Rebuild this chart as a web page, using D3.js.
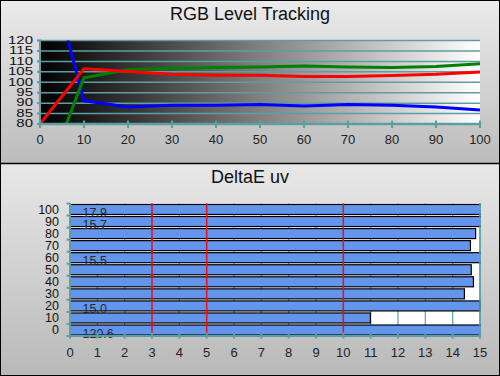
<!DOCTYPE html>
<meta charset="utf-8">
<style>
  body { margin: 0; background: #fff; }
  svg { display: block; font-family: "Liberation Sans", Arial, sans-serif; }
</style>
<script src="https://d3js.org/d3.v7.min.js"></script>
<div id="chart"></div>
<script>
  // RGB level tracking (stimulus % vs level)
  var levels = [0, 10, 20, 30, 40, 50, 60, 70, 80, 90, 100];
  var redVals = [80, 106.5, 105.2, 103.8, 103.3, 103.3, 102.7, 102.7, 103.2, 103.8, 104.9];
  var greenVals = [47, 102.2, 106.0, 106.7, 107.1, 107.3, 107.8, 107.3, 107.1, 107.6, 108.9];
  var blueVals = [171, 91.1, 88.1, 89.0, 89.0, 89.4, 88.6, 89.4, 89.0, 88.2, 86.7];
  var rgbYTicks = [80, 85, 90, 95, 100, 105, 110, 115, 120];
  var rgbXTicks = [0, 10, 20, 30, 40, 50, 60, 70, 80, 90, 100];

  // DeltaE uv
  var deCats = [100, 90, 80, 70, 60, 50, 40, 30, 20, 10, 0];
  var deVals = [17.9, 15.7, 14.84, 14.65, 15.5, 14.68, 14.76, 14.43, 15.0, 10.99, 120.6];
  var deRefLines = [3, 5, 10];
  var deXTicks = d3.range(0, 16);

  var W = 500, H = 376;
  var teal = "#5f9ea0";

  var svg = d3.select("#chart").append("svg")
      .attr("width", W).attr("height", H);

  var defs = svg.append("defs");
  function vGrad(id, c0, c1) {
    var g = defs.append("linearGradient").attr("id", id)
      .attr("x1", 0).attr("y1", 0).attr("x2", 0).attr("y2", 1);
    g.append("stop").attr("offset", "0%").attr("stop-color", c0);
    g.append("stop").attr("offset", "100%").attr("stop-color", c1);
  }
  vGrad("bgTop", "#ebebeb", "#bcbcbc");
  vGrad("bgBot", "#e8e8e8", "#b9b9b9");
  var hg = defs.append("linearGradient").attr("id", "plotGrad")
    .attr("x1", 0).attr("y1", 0).attr("x2", 1).attr("y2", 0);
  hg.append("stop").attr("offset", "0%").attr("stop-color", "#000");
  hg.append("stop").attr("offset", "100%").attr("stop-color", "#fff");

  // panel backgrounds
  svg.append("rect").attr("x", 0).attr("y", 0).attr("width", W).attr("height", 163.5).attr("fill", "url(#bgTop)");
  svg.append("rect").attr("x", 0).attr("y", 163.5).attr("width", W).attr("height", H - 163.5).attr("fill", "url(#bgBot)");
  svg.append("line").attr("x1", 0).attr("x2", W).attr("y1", 163.5).attr("y2", 163.5)
    .attr("stroke", "#000").attr("stroke-width", 1.5);
  svg.append("rect").attr("x", 0.5).attr("y", 0.5).attr("width", W - 1).attr("height", H - 1)
    .attr("fill", "none").attr("stroke", "#000").attr("stroke-width", 1);

  // ---------- top chart ----------
  var x1 = d3.scaleLinear().domain([0, 100]).range([40, 480]);
  var y1 = d3.scaleLinear().domain([80, 120]).range([124, 40.5]);

  svg.append("text").attr("x", 250).attr("y", 20).attr("text-anchor", "middle")
    .style("font-size", "18px").attr("fill", "#111").text("RGB Level Tracking");

  svg.append("rect").attr("x", x1(0)).attr("y", y1(120))
    .attr("width", x1(100) - x1(0)).attr("height", y1(80) - y1(120))
    .attr("fill", "url(#plotGrad)");

  svg.append("g").selectAll("line").data(rgbYTicks.slice(1)).enter().append("line")
    .attr("x1", 37).attr("x2", x1(100))
    .attr("y1", function(d) { return y1(d); }).attr("y2", function(d) { return y1(d); })
    .attr("stroke", teal).attr("stroke-width", 1.5);

  defs.append("clipPath").attr("id", "clipTop").append("rect")
    .attr("x", x1(0)).attr("y", y1(120)).attr("width", x1(100) - x1(0)).attr("height", y1(80) - y1(120));

  var line1 = d3.line()
    .x(function(d, i) { return x1(levels[i]); })
    .y(function(d) { return y1(d); });

  var series = [
    {vals: blueVals, color: "#0000ff"},
    {vals: greenVals, color: "#008000"},
    {vals: redVals, color: "#ff0000"}
  ];
  svg.append("g").attr("clip-path", "url(#clipTop)").selectAll("path").data(series).enter().append("path")
    .attr("d", function(d) { return line1(d.vals); })
    .attr("fill", "none").attr("stroke", function(d) { return d.color; })
    .attr("stroke-width", 3).attr("stroke-linejoin", "round");

  // axes
  svg.append("line").attr("x1", x1(0)).attr("x2", x1(0)).attr("y1", y1(120)).attr("y2", y1(80))
    .attr("stroke", teal).attr("stroke-width", 2);
  svg.append("line").attr("x1", x1(0) - 1).attr("x2", x1(100) + 1).attr("y1", y1(80)).attr("y2", y1(80))
    .attr("stroke", teal).attr("stroke-width", 2.5);
  svg.append("g").selectAll("line").data(rgbXTicks).enter().append("line")
    .attr("x1", function(d) { return x1(d); }).attr("x2", function(d) { return x1(d); })
    .attr("y1", 120.5).attr("y2", 128)
    .attr("stroke", teal).attr("stroke-width", 2);
  svg.append("g").selectAll("line").data(rgbYTicks).enter().append("line")
    .attr("x1", 37).attr("x2", 41)
    .attr("y1", function(d) { return y1(d); }).attr("y2", function(d) { return y1(d); })
    .attr("stroke", teal).attr("stroke-width", 2);

  svg.append("g").selectAll("text").data(rgbYTicks).enter().append("text")
    .attr("transform", function(d) { return "translate(33," + (y1(d) + 3.3) + ") scale(1,0.78)"; })
    .attr("text-anchor", "end").style("font-size", "15px").attr("fill", "#111")
    .text(function(d) { return d; });
  svg.append("g").selectAll("text").data(rgbXTicks).enter().append("text")
    .attr("x", function(d) { return x1(d); }).attr("y", 144)
    .attr("text-anchor", "middle").style("font-size", "13px").attr("fill", "#222")
    .text(function(d) { return d; });

  // ---------- bottom chart ----------
  var x2 = d3.scaleLinear().domain([0, 15]).range([70, 480]);
  var y2 = d3.scaleBand().domain(deCats).range([203.5, 336]).paddingInner(0.17).paddingOuter(0.08);
  var bandStep = (336 - 203.5) / deCats.length;

  svg.append("text").attr("x", 250).attr("y", 183).attr("text-anchor", "middle")
    .style("font-size", "18px").attr("fill", "#111").text("DeltaE uv");

  svg.append("rect").attr("x", x2(0)).attr("y", 203.5).attr("width", x2(15) - x2(0)).attr("height", 336 - 203.5)
    .attr("fill", "#fff");

  svg.append("g").selectAll("line").data(deXTicks.slice(1)).enter().append("line")
    .attr("x1", function(d) { return x2(d); }).attr("x2", function(d) { return x2(d); })
    .attr("y1", 203.5).attr("y2", 336)
    .attr("stroke", teal).attr("stroke-width", 1.2);

  defs.append("clipPath").attr("id", "clipBot").append("rect")
    .attr("x", x2(0)).attr("y", 203).attr("width", x2(15) - x2(0) + 1).attr("height", 336 - 203);

  svg.append("g").attr("clip-path", "url(#clipBot)").selectAll("rect").data(deCats).enter().append("rect")
    .attr("x", x2(0))
    .attr("y", function(d) { return y2(d); })
    .attr("width", function(d, i) { return x2(Math.min(deVals[i], 15.2)) - x2(0); })
    .attr("height", y2.bandwidth())
    .attr("fill", "#6495ed").attr("stroke", "#000").attr("stroke-width", 1.2);

  svg.append("g").selectAll("line").data(deRefLines).enter().append("line")
    .attr("x1", function(d) { return x2(d); }).attr("x2", function(d) { return x2(d); })
    .attr("y1", 203.5).attr("y2", 336)
    .attr("stroke", "#e81010").attr("stroke-width", 1.5);

  // labels for clipped bars
  svg.append("g").selectAll("text").data(deCats).enter().append("text")
    .filter(function(d, i) { return deVals[i] >= 15; })
    .attr("x", 82.5)
    .attr("y", function(d) { return y2(d) + y2.bandwidth() / 2 + 7.5; })
    .style("font-size", "12.5px").attr("fill", "#2a2a2a")
    .text(function(d) { return deVals[deCats.indexOf(d)].toFixed(1); });

  // axes
  svg.append("line").attr("x1", x2(0)).attr("x2", x2(0)).attr("y1", 203).attr("y2", 336)
    .attr("stroke", teal).attr("stroke-width", 2);
  svg.append("line").attr("x1", x2(0) - 1).attr("x2", x2(15) + 1).attr("y1", 336).attr("y2", 336)
    .attr("stroke", teal).attr("stroke-width", 2);
  svg.append("line").attr("x1", x2(15)).attr("x2", x2(15)).attr("y1", 203.5).attr("y2", 336)
    .attr("stroke", teal).attr("stroke-width", 1.5);
  svg.append("g").selectAll("line").data(deXTicks).enter().append("line")
    .attr("x1", function(d) { return x2(d); }).attr("x2", function(d) { return x2(d); })
    .attr("y1", 332.5).attr("y2", 338.5)
    .attr("stroke", teal).attr("stroke-width", 2);
  svg.append("g").selectAll("line").data(d3.range(deCats.length + 1)).enter().append("line")
    .attr("x1", 66.5).attr("x2", 70)
    .attr("y1", function(d) { return 203.5 + d * bandStep; }).attr("y2", function(d) { return 203.5 + d * bandStep; })
    .attr("stroke", teal).attr("stroke-width", 2);

  svg.append("g").selectAll("text").data(deCats).enter().append("text")
    .attr("x", 59).attr("y", function(d) { return y2(d) + y2.bandwidth() / 2 + 4.3; })
    .attr("text-anchor", "end").style("font-size", "12.5px").attr("fill", "#111")
    .text(function(d) { return d; });
  svg.append("g").selectAll("text").data(deXTicks).enter().append("text")
    .attr("x", function(d) { return x2(d); }).attr("y", 357)
    .attr("text-anchor", "middle").style("font-size", "13px").attr("fill", "#222")
    .text(function(d) { return d; });
</script>
